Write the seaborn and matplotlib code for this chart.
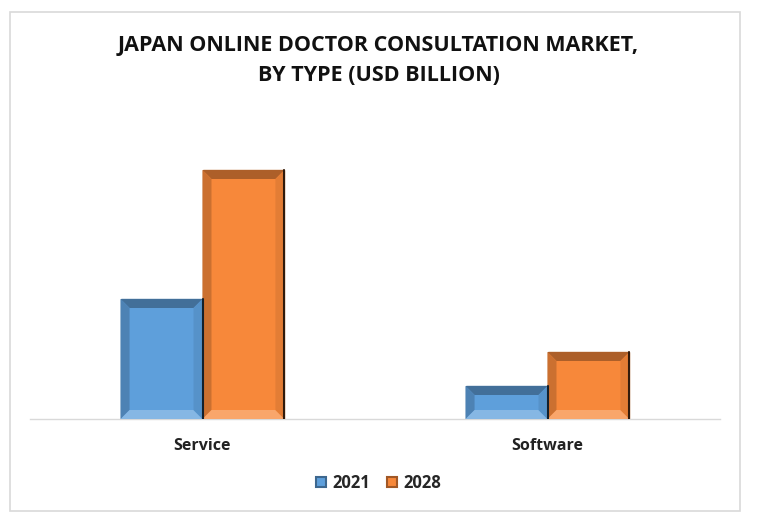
import numpy as np
import pandas as pd
import matplotlib
matplotlib.use('Agg')
import matplotlib.pyplot as plt
import seaborn as sns
from matplotlib.patches import Polygon, Rectangle
from matplotlib.colors import to_rgb

# values (USD billion, estimated)
types = ['Service', 'Software']
years = ['2021', '2028']
val_2021 = [1.20, 0.33]
val_2028 = [2.49, 0.67]
colors = ['#5E9FDB', '#F7883A']

df = pd.DataFrame({
    'Type': types * 2,
    'Year': [years[0]] * 2 + [years[1]] * 2,
    'Value': val_2021 + val_2028,
})

sns.set_theme(style='white')
plt.rcParams['font.family'] = ['Open Sans', 'DejaVu Sans']

fig = plt.figure(figsize=(7.57, 5.23), dpi=100)
ax = fig.add_axes([30 / 757, 1 - 419 / 523, 690 / 757, 270 / 523])

sns.barplot(data=df, x='Type', y='Value', hue='Year', palette=colors,
            width=0.475, saturation=1, ax=ax, legend=False)
ax.set_ylim(0, 2.70)
ax.set_xlim(-0.5, 1.5)


def shade(c, f):
    r, g, b = to_rgb(c)
    if f < 0:
        return (r * (1 + f), g * (1 + f), b * (1 + f))
    return (r + (1 - r) * f, g + (1 - g) * f, b + (1 - b) * f)


# bevel look on each bar, built from the bar's own geometry
bars = [p for p in ax.patches if p.get_height() > 0]
for p in bars:
    x0, y0 = p.get_x(), p.get_y()
    w, h = p.get_width(), p.get_height()
    c = p.get_facecolor()
    p.set_edgecolor(shade(c, -0.25))
    p.set_linewidth(1.0)
    # bevel size ~9 px
    bx = w * 9 / 82
    by = 2.70 * 9 / 270
    bx = min(bx, w / 3)
    by = min(by, h / 3)
    x1, y1 = x0 + w, y0 + h
    ix0, ix1, iy0, iy1 = x0 + bx, x1 - bx, y0 + by, y1 - by
    faces = [
        ([(x0, y1), (x1, y1), (ix1, iy1), (ix0, iy1)], shade(c, -0.3)),   # top
        ([(x0, y0), (x0, y1), (ix0, iy1), (ix0, iy0)], shade(c, -0.18)),  # left
        ([(x0, y0), (x1, y0), (ix1, iy0), (ix0, iy0)], shade(c, 0.25)),   # bottom
        ([(x1, y0), (x1, y1), (ix1, iy1), (ix1, iy0)], shade(c, -0.08)),  # right
    ]
    for pts, fc in faces:
        ax.add_patch(Polygon(pts, closed=True, facecolor=fc, edgecolor='none', zorder=3))
    ax.plot([x1, x1], [y0, y1], color=shade(c, -0.8), lw=1.5, zorder=4)

sns.despine(ax=ax, left=True, top=True, right=True, bottom=False)
ax.spines['bottom'].set_color('#d9d9d9')
ax.spines['bottom'].set_linewidth(1)
ax.set_yticks([])
ax.set_xlabel('')
ax.set_ylabel('')
ax.tick_params(axis='x', length=0, pad=14)
for t in ax.get_xticklabels():
    t.set_fontsize(11.5)
    t.set_fontweight('bold')
    t.set_color('#222222')

fig.text(0.5, 1 - 46 / 523, 'JAPAN ONLINE DOCTOR CONSULTATION MARKET,',
         ha='center', va='center', fontsize=15.5, fontweight='bold', color='#111111')
fig.text(0.5, 1 - 75 / 523, 'BY TYPE (USD BILLION)',
         ha='center', va='center', fontsize=15.5, fontweight='bold', color='#111111')

handles = [Rectangle((0, 0), 1, 1, facecolor=c, edgecolor=shade(c, -0.35), lw=1.5) for c in colors]
fig.legend(handles, years, loc='center', bbox_to_anchor=(0.5, 1 - 483 / 523),
           ncol=2, frameon=False, handlelength=0.6, handleheight=0.6,
           handletextpad=0.4, columnspacing=1.0,
           prop={'weight': 'bold', 'size': 12})

fig.add_artist(Rectangle((10 / 757, 1 - 511 / 523), 730 / 757, 499 / 523,
                         transform=fig.transFigure, fill=False,
                         edgecolor='#d9d9d9', lw=1.2))

fig.savefig('out.png', dpi=100, facecolor='white')
